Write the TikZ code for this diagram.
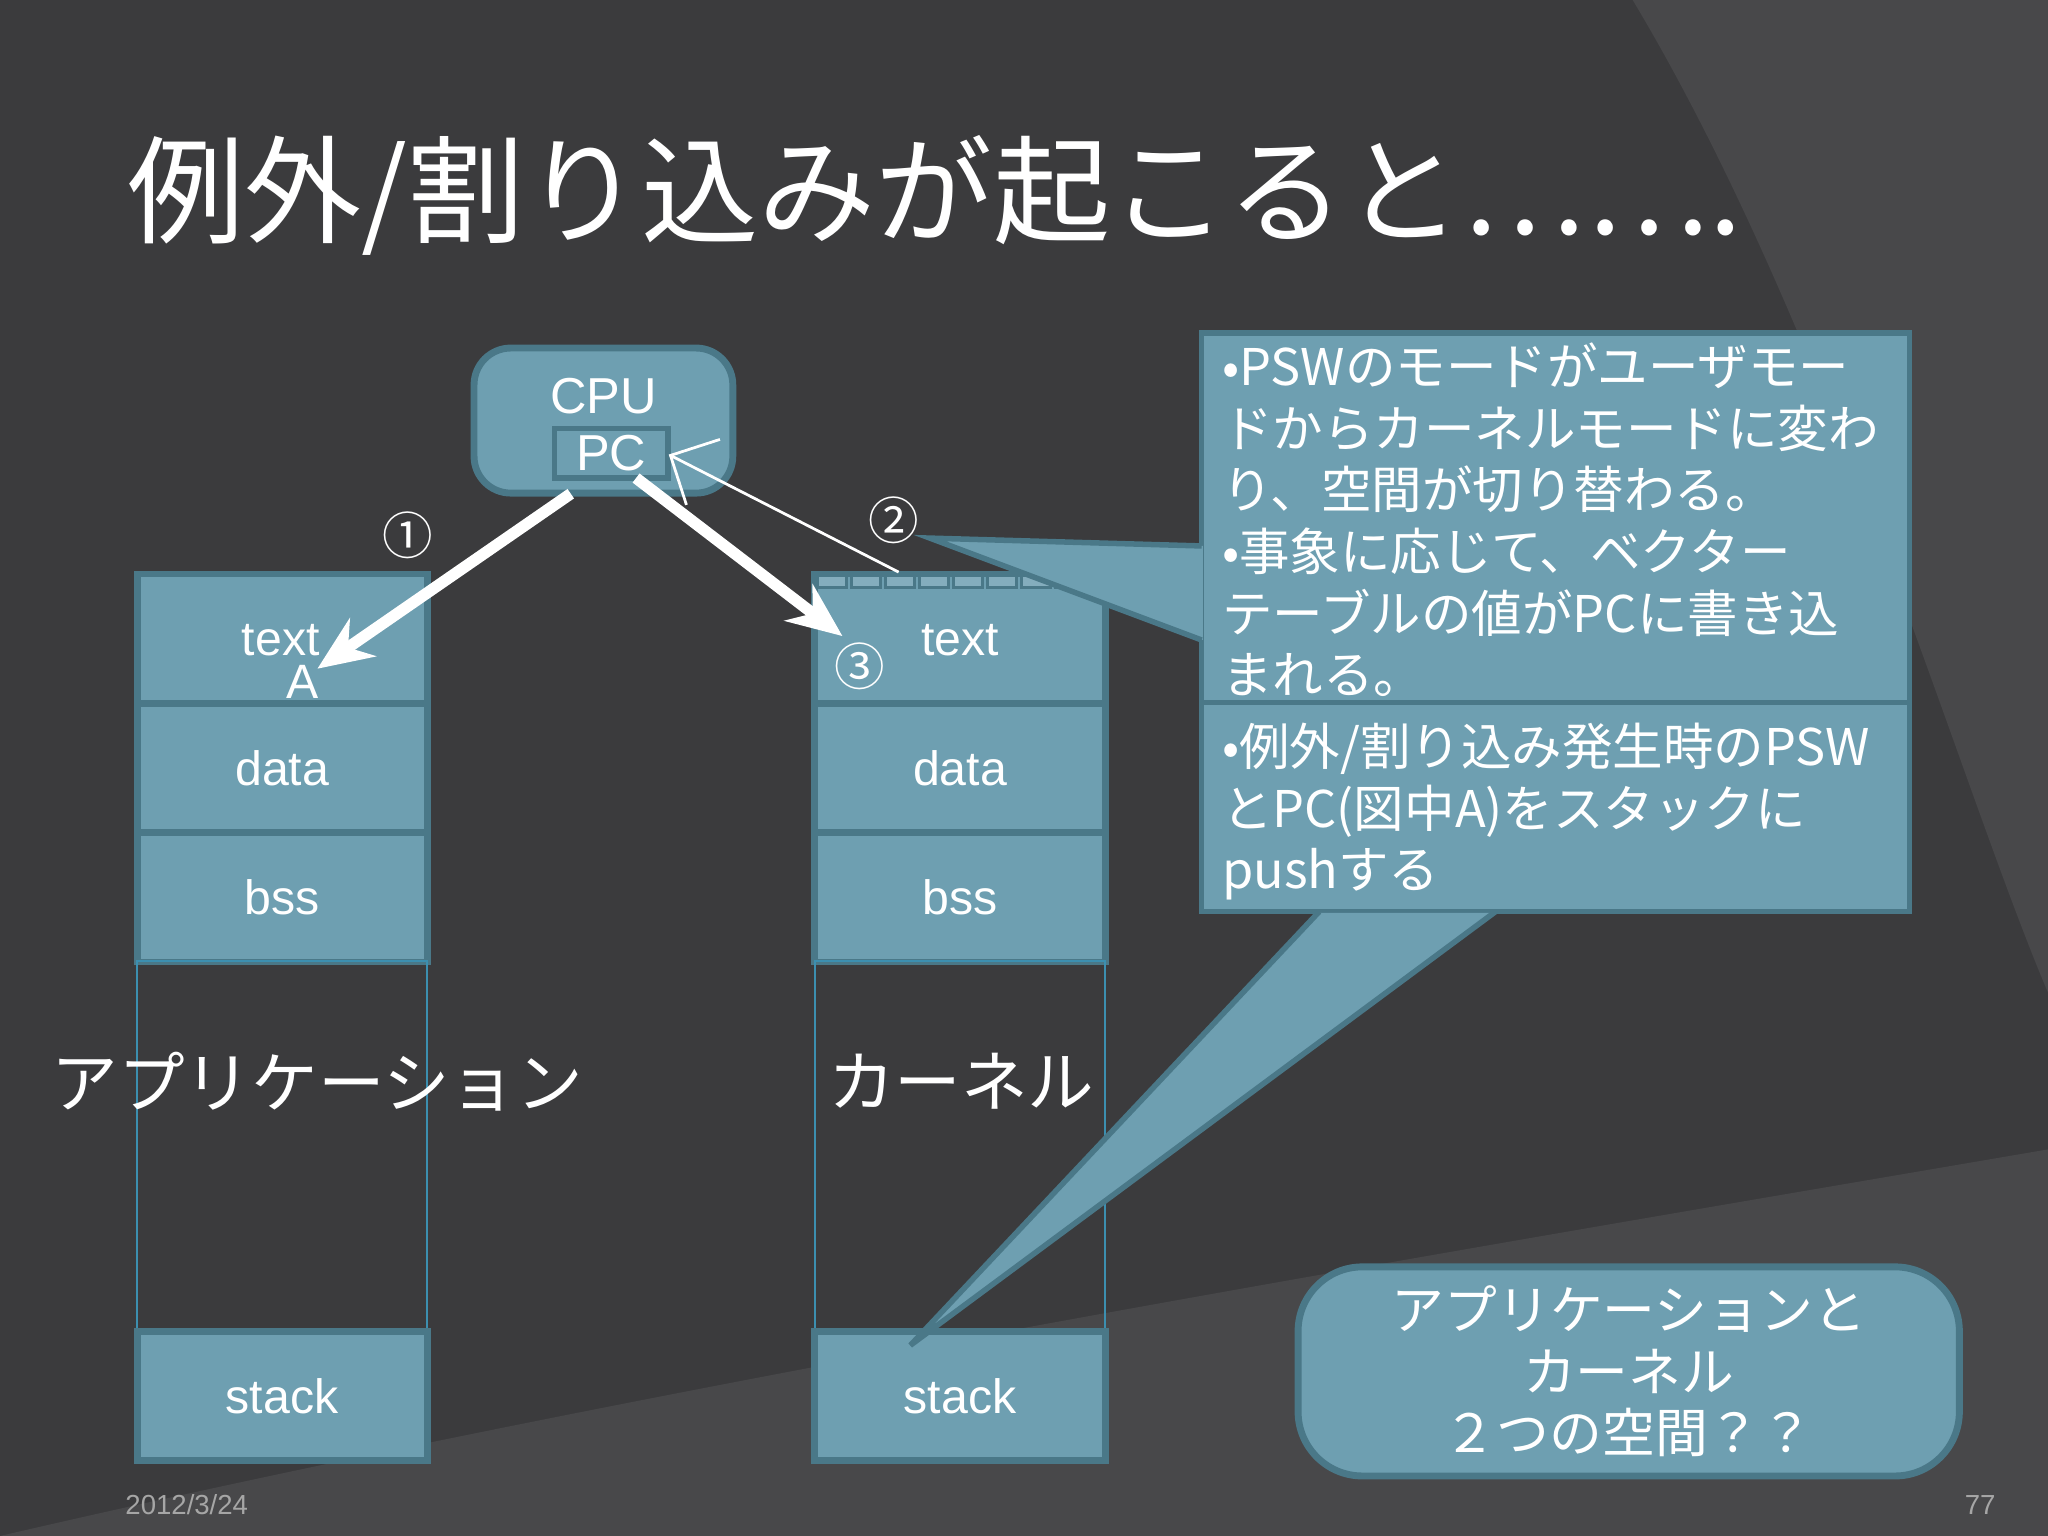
\documentclass[tikz,border=0pt]{standalone}
\usepackage{fontspec}
\usetikzlibrary{arrows.meta}
\setmainfont{Liberation Sans}
\newfontfamily\jp{Noto Sans CJK JP}
\definecolor{bg}{HTML}{3B3B3D}
\definecolor{bgl}{HTML}{48484A}
\definecolor{box}{HTML}{6E9FB1}
\definecolor{boxd}{HTML}{4A7888}
\definecolor{thin}{HTML}{3C8FB0}
\begin{document}
\begin{tikzpicture}[x=0.01cm,y=-0.01cm,
 seg/.style={draw=boxd,line width=1.5pt,fill=box,minimum width=2.22cm,minimum height=0.99cm,inner sep=0pt,font=\fontsize{10.5}{12}\selectfont,text=white},
 call/.style={draw=boxd,line width=1.2pt,fill=box},
 ctext/.style={anchor=north west,align=left,text=white,font=\jp\fontsize{11}{13.4}\selectfont,inner sep=0pt},
 warr/.style={draw=white,line width=2.5pt,-{Stealth[length=12pt,width=10pt]}},
 num/.style={text=white,font=\jp\fontsize{11}{12}\selectfont}]
\useasboundingbox (0,0) rectangle (1568,1176);
\fill[bg] (0,0) rectangle (1568,1176);
\fill[bgl] (1250,0) .. controls (1400,250) and (1500,600) .. (1568,760) -- (1568,0) -- cycle;
\fill[bgl] (0,1176) .. controls (500,1060) and (1100,960) .. (1568,880) -- (1568,1176) -- cycle;
\node[text=white,font=\jp\fontsize{25.5}{30}\selectfont,anchor=west] (title) at (85,150) {例外/割り込みが起こると…….};
% CPU
\node[draw=boxd,line width=1.5pt,fill=box,rounded corners=8pt,minimum width=1.98cm,minimum height=1.11cm,inner sep=0pt] (cpu) at (462,322) {};
\node[text=white,font=\fontsize{11}{12}\selectfont] (cpul) at (462,303) {CPU};
\node[draw=boxd,line width=1.2pt,minimum width=0.87cm,minimum height=0.38cm,inner sep=0pt,text=white,font=\fontsize{11}{12}\selectfont] (pc) at (468,347) {PC};
% left column
\node[seg] (ltext) at (216,489) {};
\node[seg] (ldata) at (216,588) {data};
\node[seg] (lbss) at (216,687) {bss};
\node[draw=thin,line width=0.5pt,minimum width=2.22cm,minimum height=2.84cm,inner sep=0pt] (lemp) at (216,878) {};
\node[seg] (lstack) at (216,1069) {stack};
\node[text=white,font=\fontsize{10.5}{12}\selectfont] (lt) at (215,490) {text};
\node[text=white,font=\fontsize{10.5}{12}\selectfont] (la) at (232,522) {A};
% right column
\node[seg] (rtext) at (735,489) {};
\node[seg] (rdata) at (735,588) {data};
\node[seg] (rbss) at (735,687) {bss};
\node[draw=thin,line width=0.5pt,minimum width=2.22cm,minimum height=2.84cm,inner sep=0pt] (remp) at (735,878) {};
\node[seg] (rstack) at (735,1069) {stack};
\node[text=white,font=\fontsize{10.5}{12}\selectfont] (rt) at (735,490) {text};
\foreach \i in {0,...,7}{\draw[boxd,fill=box!85!white,line width=0.6pt] (626+\i*26,441) rectangle (648+\i*26,450);}
\node[text=white,font=\jp\fontsize{14.5}{16}\selectfont] (app) at (243,828) {アプリケーション};
\node[text=white,font=\jp\fontsize{14.5}{16}\selectfont] (ker) at (736,828) {カーネル};
\node[num] (n1) at (312,410) {①};
\node[num] (n2) at (684,398) {②};
\node[num] (n3) at (658,510) {③};
% callouts
\path[call] (920,255) rectangle (1462,538);
\fill[box] (921,418) -- (712,412) -- (921,490) -- cycle;
\draw[boxd,line width=1.2pt] (920,418) -- (712,412) -- (920,490);
\node[ctext] (c1) at (935,262) {•PSWのモードがユーザモー\\ドからカーネルモードに変わ\\り、空間が切り替わる。\\•事象に応じて、ベクター\\テーブルの値がPCに書き込\\まれる。};
\path[call] (920,538) rectangle (1462,698);
\fill[box] (1010,699) -- (697,1030) -- (1145,699) -- cycle;
\draw[boxd,line width=1.2pt] (1010,698) -- (697,1030) -- (1145,698);
\node[ctext] (c2) at (935,553) {•例外/割り込み発生時のPSW\\とPC(図中A)をスタックに\\pushする};
% arrows
\draw[warr] (437,378) -- (243,512);
\draw[warr] (487,366) -- (645,487);
\draw[white,line width=0.6pt,-{Straight Barb[length=8pt]}] (688,438) -- (512,348);
% bottom box
\node[draw=boxd,line width=1.5pt,fill=box,rounded corners=14pt,minimum width=5.06cm,minimum height=1.6cm,align=center,text=white,font=\jp\fontsize{11.5}{13.4}\selectfont] (bot) at (1247,1050) {アプリケーションと\\カーネル\\２つの空間？？};
\node[text=gray!70,font=\fontsize{6}{7}\selectfont] (date) at (143,1152) {2012/3/24};
\node[text=gray!70,font=\fontsize{6}{7}\selectfont] (pg) at (1516,1152) {77};
\end{tikzpicture}
\end{document}
